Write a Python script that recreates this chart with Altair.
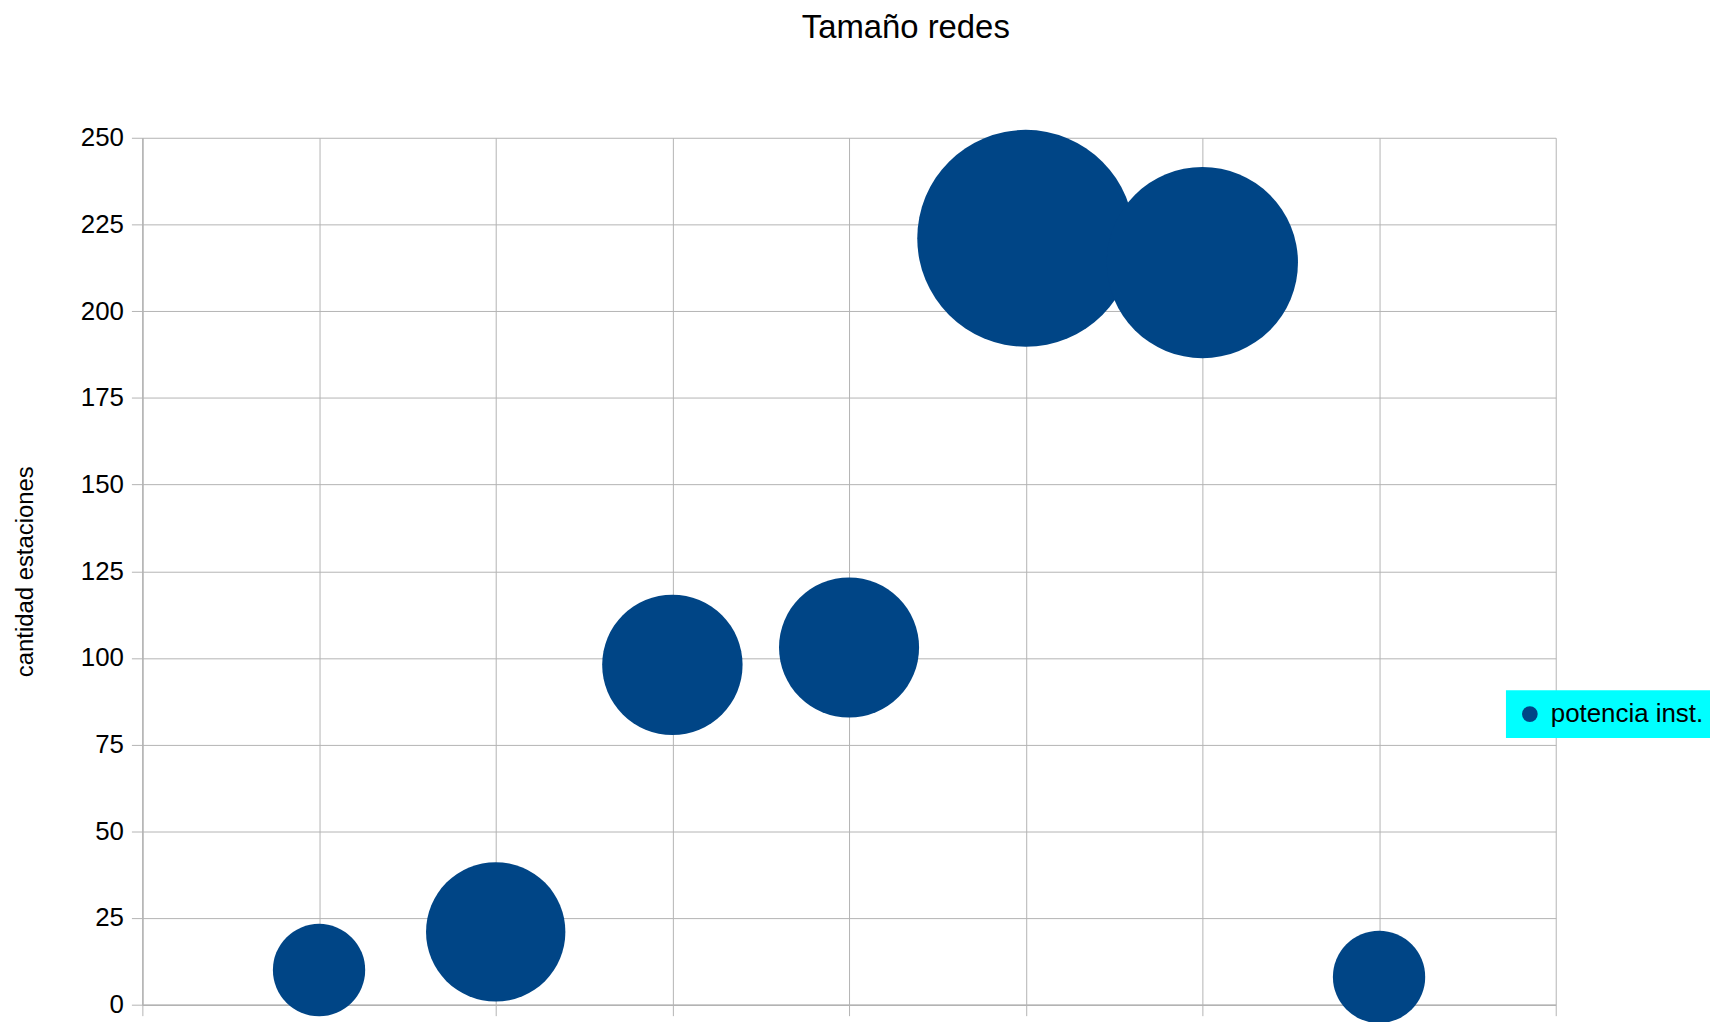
import altair as alt
import pandas as pd

# Data
posicion = [1, 2, 3, 4, 5, 6, 7]
estaciones = [10, 21, 98, 103, 221, 214, 8]
potencia = [86, 196, 199, 198, 475, 369, 86]
serie = ["potencia inst."] * 7
y_ticks = list(range(0, 251, 25))
x_ticks = list(range(0, 9))

df = pd.DataFrame({"pos": posicion, "est": estaciones, "pot": potencia, "serie": serie})

FONT = "Liberation Sans"
GRID = "#b3b3b3"

chart = alt.Chart(df, title=alt.Title(
    "Tamaño redes", font=FONT, fontSize=33, fontWeight="normal", color="black",
    anchor="middle", dx=57, offset=80)).mark_circle(opacity=1).encode(
    x=alt.X("pos:Q", scale=alt.Scale(domain=[0, 8], nice=False, zero=False),
            axis=alt.Axis(values=x_ticks, labels=False, title=None, grid=True,
                          gridColor=GRID, domainColor=GRID, tickColor=GRID,
                          tickSize=11, domainWidth=1.5)),
    y=alt.Y("est:Q", scale=alt.Scale(domain=[0, 250], nice=False),
            axis=alt.Axis(values=y_ticks, title="cantidad estaciones", grid=True,
                          gridColor=GRID, domainColor=GRID, tickColor=GRID,
                          tickSize=11, labelPadding=8, labelFont=FONT,
                          labelFontSize=26, labelColor="black",
                          titleFont=FONT, titleFontSize=24, titleFontWeight="normal",
                          titleColor="black", titleX=-110, titleY=435.5,
                          titleAngle=270, titleAlign="center",
                          titleBaseline="alphabetic", domainWidth=1.5)),
    size=alt.Size("pot:Q", scale=alt.Scale(type="linear", domain=[0, 475], range=[0, 47500]),
                  legend=None),
    color=alt.Color("serie:N", scale=alt.Scale(range=["#004586"]),
                    legend=alt.Legend(title=None, orient="none", legendX=1370, legendY=555,
                                      fillColor="#00ffff", padding=11,
                                      symbolType="circle", symbolSize=250,
                                      symbolStrokeWidth=0, labelFont=FONT,
                                      labelFontSize=26, labelColor="black",
                                      labelOffset=8)),
).properties(
    width=1420, height=871,
    padding={"left": 135, "top": 128, "right": 155, "bottom": 15},
    autosize=alt.AutoSizeParams(type="none"),
).configure_view(stroke=None)

chart.save("out.html", embed_options={"renderer": "svg", "actions": False})
